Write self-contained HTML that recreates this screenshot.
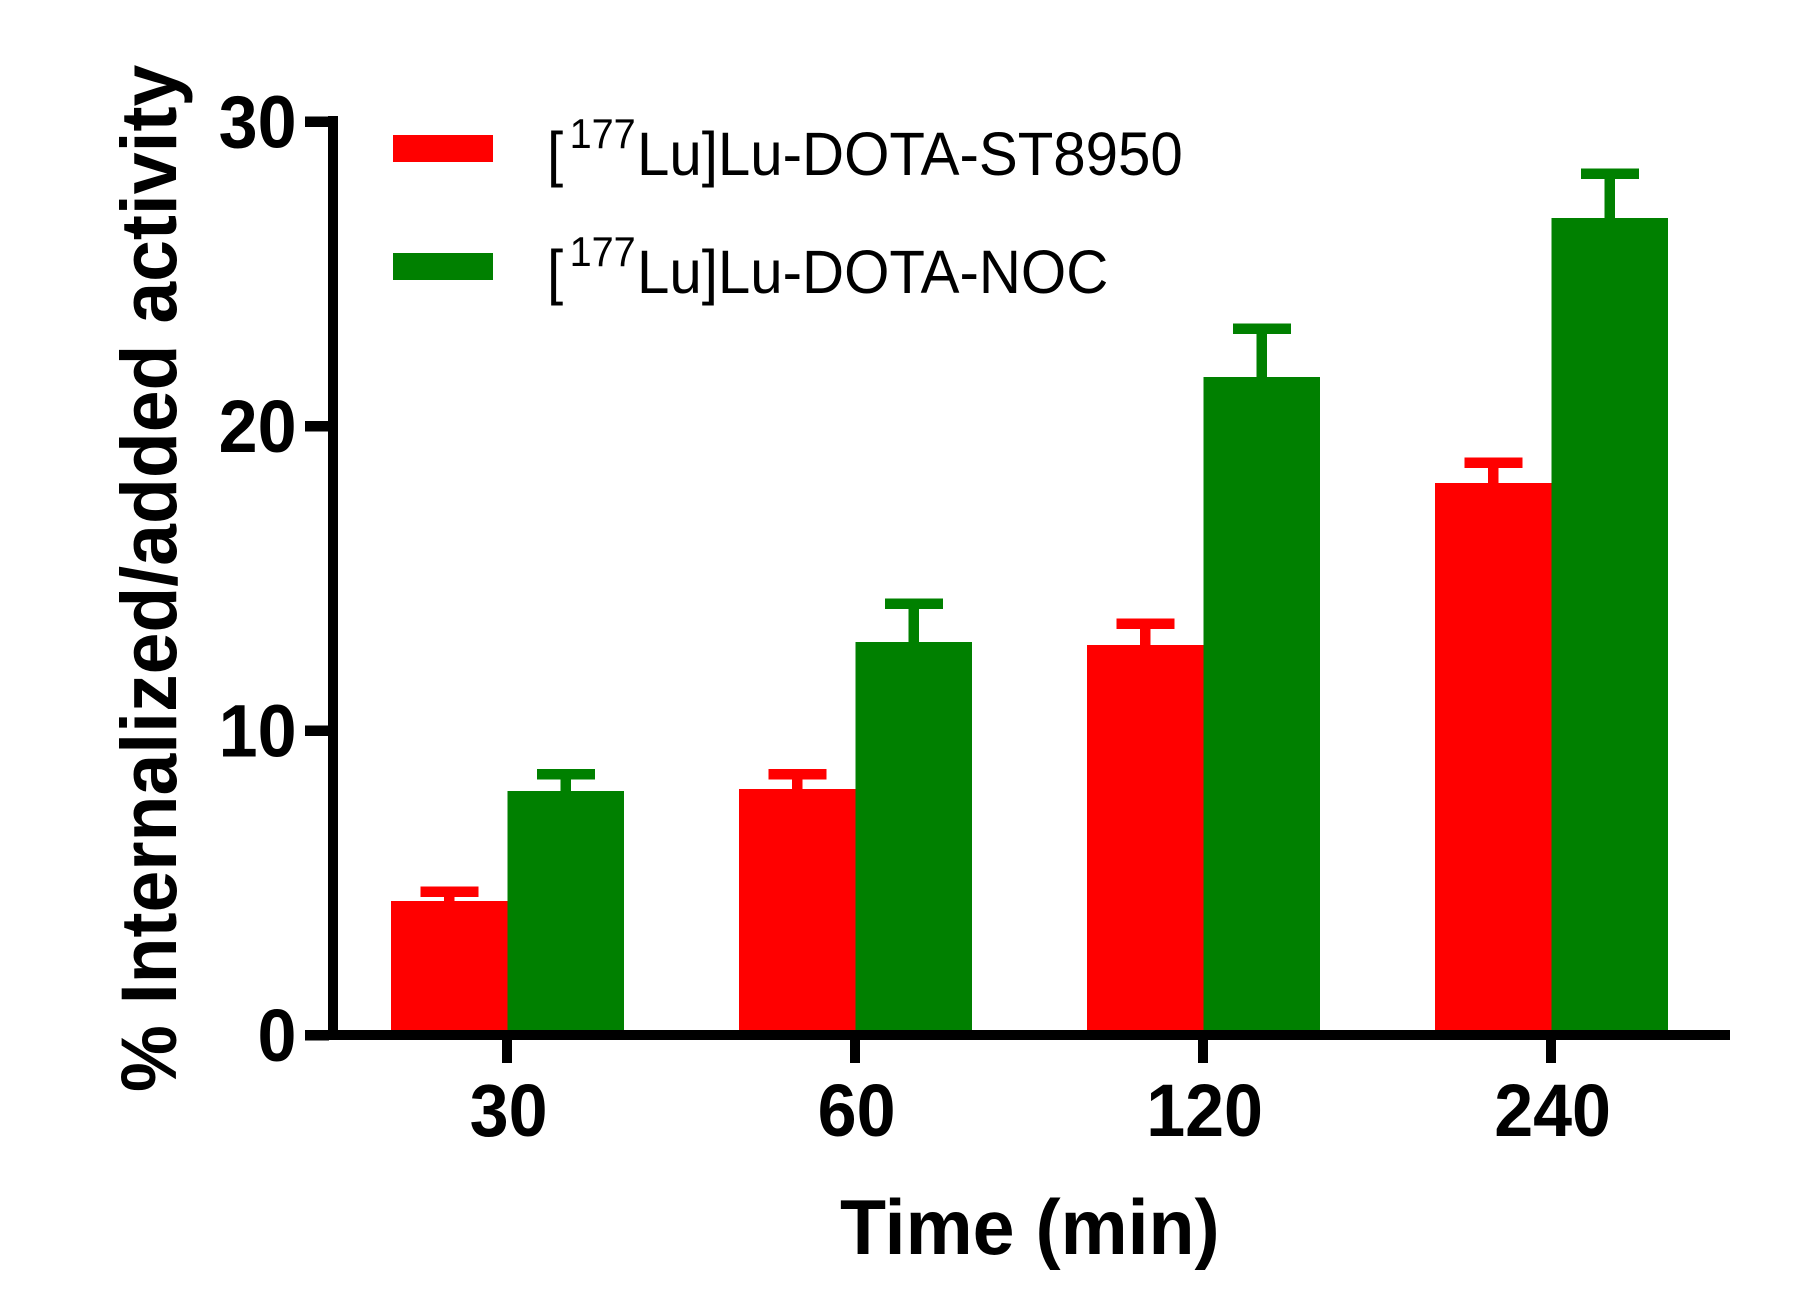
<!DOCTYPE html>
<html lang="en">
<head>
<meta charset="utf-8">
<title>Internalized activity chart</title>
<style>
html,body{margin:0;padding:0;background:#fff;}
svg{display:block;}
text{font-family:"Liberation Sans",Arial,sans-serif;fill:#000;}
.b{font-weight:bold;}
</style>
</head>
<body>
<svg id="chart" xmlns="http://www.w3.org/2000/svg" width="1817" height="1296" viewBox="0 0 1817 1296">
  <rect x="0" y="0" width="1817" height="1296" fill="#ffffff"/>
  <g id="bars" shape-rendering="crispEdges"></g>
  <g id="axes" shape-rendering="crispEdges"></g>
  <g id="labels"></g>
  <text class="b" font-size="75" text-anchor="start" transform="translate(176 1092) rotate(-90) scale(1.002 1.05)">% Internalized/added activity</text>
  <text class="b" font-size="75" transform="translate(840 1254) scale(1.005 1.04)">Time (min)</text>
  <g>
    <g>
      <rect x="393" y="135" width="100" height="27" fill="#ff0000" shape-rendering="crispEdges"/>
      <text font-size="58" transform="translate(547 175) scale(1.004 1.05)"><tspan x="0" y="0">[</tspan><tspan x="22.5" y="-25.5" font-size="39.5">177</tspan><tspan x="89.6" y="0">Lu]Lu-DOTA-ST8950</tspan></text>
    </g>
    <g>
      <rect x="393" y="253" width="100" height="27" fill="#008000" shape-rendering="crispEdges"/>
      <text font-size="58" transform="translate(547 293) scale(1.004 1.05)"><tspan x="0" y="0">[</tspan><tspan x="22.5" y="-25.5" font-size="39.5">177</tspan><tspan x="89.6" y="0">Lu]Lu-DOTA-NOC</tspan></text>
    </g>
  </g>
</svg>
<script>
const categories = ["30", "60", "120", "240"];
const st8950Values = [4.40, 8.08, 12.81, 18.13];
const st8950ErrorTops = [4.70, 8.57, 13.50, 18.80];
const nocValues = [8.01, 12.91, 21.61, 26.83];
const nocErrorTops = [8.57, 14.16, 23.20, 28.29];
const yTickValues = [0, 10, 20, 30];

const NS = "http://www.w3.org/2000/svg";
const yScale = function (v) { return 1035 - v * 30.45; };
const xScale = function (i) { return 507.6 + i * 348; };
const BAR_W = 116.5;
const CAP_W = 58;
const CAP_H = 10.5;
const STEM_W = 10.5;

function makeRect(parent, x, y, w, h, fill) {
  const r = document.createElementNS(NS, "rect");
  r.setAttribute("x", x);
  r.setAttribute("y", y);
  r.setAttribute("width", w);
  r.setAttribute("height", h);
  r.setAttribute("fill", fill);
  parent.appendChild(r);
  return r;
}

const barsGroup = document.getElementById("bars");
function drawSeries(values, errorTops, fill, offset, seriesName) {
  values.forEach(function (v, i) {
    const left = xScale(i) + offset;
    const mid = left + BAR_W / 2;
    const bar = makeRect(barsGroup, left, yScale(v), BAR_W, yScale(0) - yScale(v), fill);
    
    
    bar.setAttribute("data-series", seriesName);
    const capY = yScale(errorTops[i]);
    const stem = makeRect(barsGroup, mid - STEM_W / 2, capY, STEM_W, yScale(v) - capY, fill);
    
    
    const cap = makeRect(barsGroup, mid - CAP_W / 2, capY - CAP_H / 2, CAP_W, CAP_H, fill);
    
    
  });
}
drawSeries(st8950Values, st8950ErrorTops, "#ff0000", -BAR_W, "st8950");
drawSeries(nocValues, nocErrorTops, "#008000", 0, "noc");

const axesGroup = document.getElementById("axes");
const yAxisLine = makeRect(axesGroup, 328, yScale(30) - 5.5, 10, yScale(0) - yScale(30) + 10.5, "#000");


const xAxisLine = makeRect(axesGroup, 305, yScale(0) - 5, 1425, 10, "#000");



const labelsGroup = document.getElementById("labels");
function makeLabel(x, y, anchor, str) {
  const t = document.createElementNS(NS, "text");
  t.setAttribute("x", 0);
  t.setAttribute("y", 0);
  t.setAttribute("text-anchor", anchor);
  t.setAttribute("font-size", "70");
  t.setAttribute("class", "b");
  t.setAttribute("transform", "translate(" + x + " " + y + ") scale(1 1.06)");
  t.textContent = str;
  labelsGroup.appendChild(t);
  return t;
}

yTickValues.forEach(function (v) {
  const tick = makeRect(axesGroup, 305, yScale(v) - 5.25, 24, 10.5, "#000");
  
  
  const label = makeLabel(296.5, yScale(v) + 26, "end", String(v));
  
  
});

categories.forEach(function (c, i) {
  const tick = makeRect(axesGroup, xScale(i) - 5.6, 1040, 10, 23, "#000");
  
  
  const label = makeLabel(xScale(i) + 1, 1136, "middle", c);
  
  
});
</script>
</body>
</html>
